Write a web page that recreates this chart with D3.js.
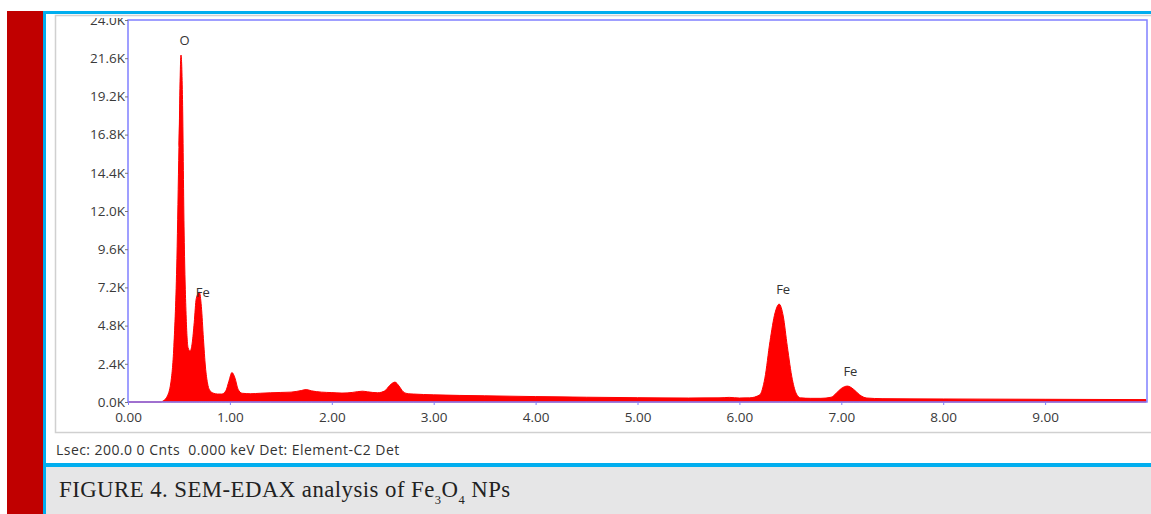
<!DOCTYPE html>
<html><head><meta charset="utf-8">
<script src="https://cdn.jsdelivr.net/npm/d3@7"></script>
<style>html,body{margin:0;padding:0;background:#fff;overflow:hidden}</style>
</head><body>
<svg id="c" width="1151" height="514"></svg>
<script>
// Spectrum (energy in keV, counts)
const energy = [0.00,0.33,0.34,0.38,0.42,0.45,0.48,0.50,0.52,0.535,0.55,0.57,0.59,0.61,0.63,0.65,0.67,0.70,0.72,0.74,0.76,0.78,0.80,0.84,0.88,0.92,0.96,0.99,1.02,1.05,1.08,1.12,1.20,1.30,1.40,1.50,1.60,1.70,1.75,1.80,1.90,2.00,2.10,2.20,2.30,2.35,2.45,2.52,2.57,2.62,2.66,2.70,2.75,2.80,3.00,3.50,4.00,4.50,5.00,5.50,5.80,5.90,6.00,6.10,6.20,6.25,6.30,6.35,6.39,6.43,6.47,6.52,6.56,6.60,6.70,6.80,6.90,6.95,7.00,7.06,7.12,7.18,7.25,7.40,8.00,9.00,9.99];
const counts = [0,0,50,300,1200,3500,9000,16000,21800,19000,11000,5500,3400,3200,3700,5000,6500,6900,6000,4000,2200,1200,750,550,500,500,700,1300,1850,1500,800,550,520,550,580,600,620,720,780,700,620,590,560,600,680,640,580,700,1050,1250,1000,650,520,500,450,390,340,300,270,250,260,290,250,260,450,1500,3800,5600,6150,5400,3500,1400,500,260,230,230,300,550,850,1000,800,450,250,210,190,170,150];
const yTicks = [0,2400,4800,7200,9600,12000,14400,16800,19200,21600,24000];
const yTickLabels = ["0.0K","2.4K","4.8K","7.2K","9.6K","12.0K","14.4K","16.8K","19.2K","21.6K","24.0K"];
const xTicks = [0,1,2,3,4,5,6,7,8,9];
const xTickLabels = ["0.00","1.00","2.00","3.00","4.00","5.00","6.00","7.00","8.00","9.00"];
const peakLabels = ["O","Fe","Fe","Fe"];
const peakEnergy = [0.525,0.705,6.40,7.06];
const peakCounts = [21800,6900,6150,1000];
const statusText = "Lsec: 200.0 0 Cnts  0.000 keV Det: Element-C2 Det";

const svg = d3.select("#c");
// left red bar and blue frame
svg.append("rect").attr("x",7).attr("y",11).attr("width",36).attr("height",503).attr("fill","#c00000");
svg.append("rect").attr("x",43).attr("y",11).attr("width",1108).attr("height",3).attr("fill","#00aeef");
svg.append("rect").attr("x",43).attr("y",11).attr("width",3).attr("height",503).attr("fill","#00aeef");
// image panel border
svg.append("rect").attr("x",55.5).attr("y",15.5).attr("width",1100).attr("height",417).attr("fill","#fff").attr("stroke","#d0d0d0").attr("stroke-width",1.5);
// caption
svg.append("rect").attr("x",46).attr("y",463).attr("width",1105).attr("height",4).attr("fill","#00aeef");
svg.append("rect").attr("x",46).attr("y",467).attr("width",1105).attr("height",47).attr("fill","#e6e6e7");
const cap = svg.append("text").attr("x",59).attr("y",497).attr("font-family","Liberation Serif, serif").attr("font-size",22.8).attr("letter-spacing",0.45).attr("fill","#222");
cap.append("tspan").text("FIGURE 4. SEM-EDAX analysis of Fe");
cap.append("tspan").attr("dy",7).attr("font-size",12.5).text("3");
cap.append("tspan").attr("dy",-7).text("O");
cap.append("tspan").attr("dy",7).attr("font-size",12.5).text("4");
cap.append("tspan").attr("dy",-7).text(" NPs");

const font = "Open Sans, DejaVu Sans, sans-serif";
svg.append("text").attr("x",56).attr("y",455).attr("font-family",font).attr("font-size",14).attr("letter-spacing",0.45).attr("fill","#333").attr("xml:space","preserve").text(statusText);

const L=128, R=1147, T=20, B=402;
const x = d3.scaleLinear().domain([0,10]).range([L,R]);
const y = d3.scaleLinear().domain([0,24000]).range([B,T]);

svg.append("defs").append("clipPath").attr("id","panel").append("rect").attr("x",56).attr("y",18).attr("width",1100).attr("height",414);

const data = energy.map((e,i)=>[e,counts[i]]);
const area = d3.area().x(d=>x(d[0])).y0(y(0)).y1(d=>y(d[1])).curve(d3.curveMonotoneX);
svg.append("path").datum(data).attr("d",area).attr("fill","#ff0000").attr("stroke","#ff0000").attr("stroke-width",1);

svg.append("rect").attr("x",L).attr("y",T).attr("width",R-L).attr("height",B-T).attr("fill","none").attr("stroke","#8080ff").attr("stroke-width",1.5);

const ya = svg.append("g").attr("clip-path","url(#panel)").append("g").attr("transform",`translate(${L},0)`).call(d3.axisLeft(y).tickValues(yTicks).tickFormat((d,i)=>yTickLabels[i]).tickSize(3).tickPadding(0));
ya.select(".domain").remove();
ya.selectAll("text").attr("font-family",font).attr("font-size",13.5).attr("fill","#3a3a3a");
ya.selectAll("line").attr("stroke","#777");
const xa = svg.append("g").attr("transform",`translate(0,${B})`).call(d3.axisBottom(x).tickValues(xTicks).tickFormat((d,i)=>xTickLabels[i]).tickSize(3).tickPadding(7));
xa.select(".domain").remove();
xa.selectAll("text").attr("font-family",font).attr("font-size",13.5).attr("fill","#3a3a3a");
xa.selectAll("line").attr("stroke","#8080ff");

svg.append("g").selectAll("text").data(peakLabels).join("text")
  .attr("x",(d,i)=>x(peakEnergy[i])+3)
  .attr("y",(d,i)=>i===1 ? y(peakCounts[i])+5 : y(peakCounts[i])-10)
  .attr("text-anchor","middle")
  .attr("font-family",font).attr("font-size",13).attr("fill","#333")
  .text(d=>d);
</script>
</body></html>
